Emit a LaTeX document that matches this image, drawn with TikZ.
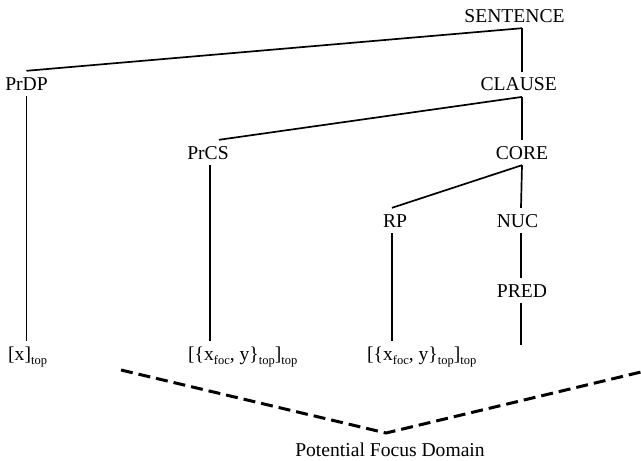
\documentclass[tikz,border=0pt]{standalone}
\usepackage{fontspec}
\setmainfont{Liberation Serif}
% lowered small text for subscripts such as "top" and "foc"
\newcommand{\lo}[1]{\raisebox{-4pt}{\fontsize{12.5}{12.5}\selectfont #1}}
\begin{document}
\begin{tikzpicture}[x=1pt,y=-1pt,
  lab/.style={font=\fontsize{19.6}{23}\selectfont, anchor=base,
    inner xsep=0pt, inner ysep=6pt, text height=13pt, text depth=0pt},
  leaf/.style={lab, anchor=base west},
  branch/.style={line width=1.7pt},
  focusline/.style={line width=3pt, dash pattern=on 12pt off 6pt}]
\useasboundingbox (0,0) rectangle (641,461);

% tree labels
\node[lab] (S)    at (514.5,22)  {SENTENCE};
\node[lab] (CL)   at (518.7,90.7) {CLAUSE};
\node[lab] (PrDP) at (26.5,90)   {PrDP};
\node[lab] (PrCS) at (208,159)   {PrCS};
\node[lab] (CORE) at (522,159)   {CORE};
\node[lab] (RP)   at (395,227)   {RP};
\node[lab] (NUC)  at (517.5,227) {NUC};
\node[lab] (PRED) at (522,297)   {PRED};

% leaves
\node[leaf] (L1) at (8,360)   {[x]\lo{top}};
\node[leaf] (L2) at (188,360) {[\{x\lo{foc}, y\}\lo{top}]\lo{top}};
\node[leaf] (L3) at (367,360) {[\{x\lo{foc}, y\}\lo{top}]\lo{top}};
\coordinate (pend) at (521,345);

% branches
\draw[branch] ([xshift=7.5pt]S.south) -- (PrDP.north);
\draw[branch] ([xshift=7.5pt]S.south) -- ([xshift=3.3pt]CL.north);
\draw[branch] ([xshift=3.3pt]CL.south) -- ([xshift=11pt]PrCS.north);
\draw[branch] ([xshift=3.3pt]CL.south) -- (CORE.north);
\draw[branch] (CORE.south) -- ([xshift=-3pt]RP.north);
\draw[branch] (CORE.south) -- ([xshift=3.5pt]NUC.north);
\draw[branch] ([xshift=3.5pt]NUC.south) -- ([xshift=-1pt]PRED.north);
\draw[branch] ([xshift=-1pt]PRED.south) -- (pend);
\draw[branch] (PrDP.south) -- (PrDP.south |- L1.north);
\draw[branch] ([xshift=2pt]PrCS.south) -- ([xshift=2pt]PrCS.south |- L2.north);
\draw[branch] ([xshift=-3pt]RP.south) -- ([xshift=-3pt]RP.south |- L3.north);

% focus domain
\node[lab] (pfd) at (390,456.5) {Potential Focus Domain};
\coordinate (d1) at (121,370);
\coordinate (d2) at (386,433);
\coordinate (d3) at (641,372);
\draw[focusline] (d1) -- (d2) -- (d3);
\end{tikzpicture}
\end{document}
